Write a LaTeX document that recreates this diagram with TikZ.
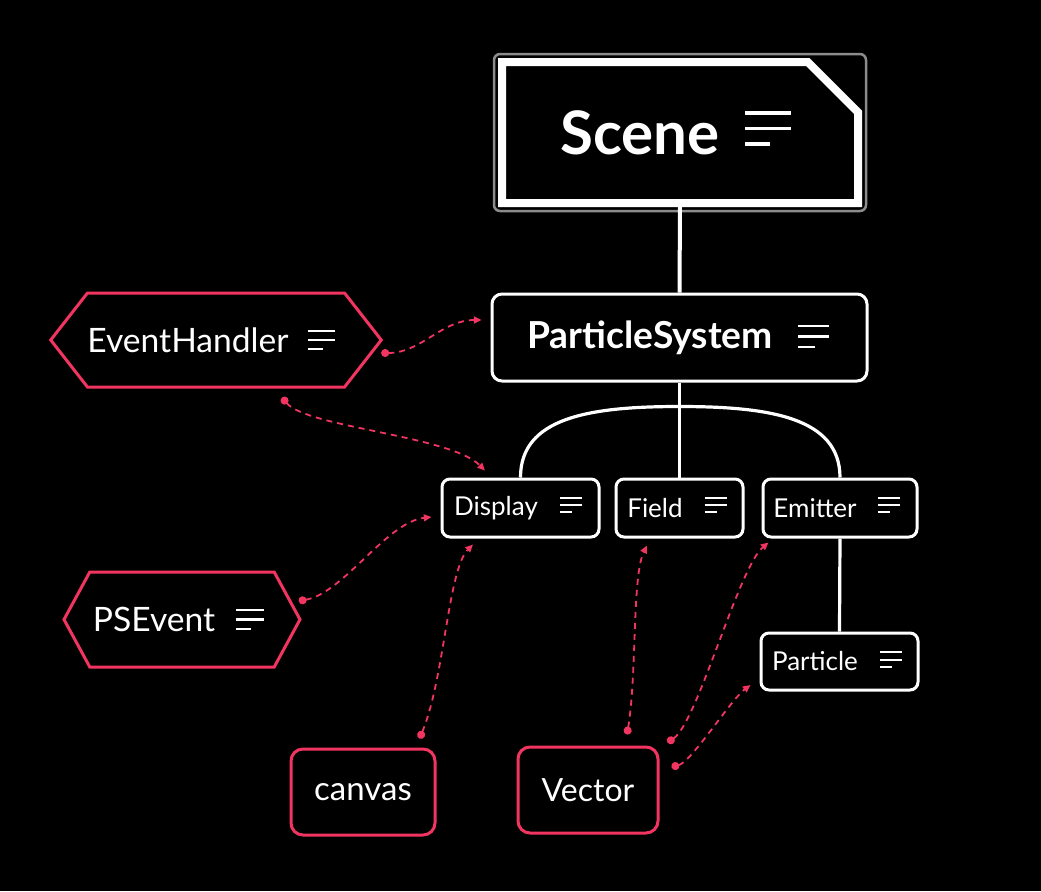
\documentclass[tikz,border=0pt]{standalone}
\usepackage{fontspec}
\setmainfont{Lato}
\usetikzlibrary{arrows.meta,shapes.misc,shapes.symbols,fit}
\definecolor{linkred}{RGB}{242,53,96}
\definecolor{framegray}{RGB}{140,140,140}
\tikzset{
  mainbox/.style={draw=white, line width=1.5pt, rounded corners=5pt, text=white, inner sep=0pt},
  smallbox/.style={mainbox, rounded corners=4pt, minimum height=29pt, font=\fontsize{13}{15}\selectfont},
  redbox/.style={draw=linkred, line width=1.5pt, rounded corners=6pt, text=white, inner sep=0pt, minimum height=43pt, font=\fontsize{16.5}{19}\selectfont},
  hexa/.style={signal, signal to=west and east, draw=linkred, line width=1.5pt, text=white, inner sep=0pt, minimum height=47pt, font=\fontsize{16.8}{19}\selectfont},
  scenebox/.style={chamfered rectangle, chamfered rectangle corners=north east, chamfered rectangle xsep=14pt, chamfered rectangle ysep=14pt, draw=white, line width=4pt, text=white, inner sep=0pt, font=\bfseries\fontsize{30}{36}\selectfont},
  tree/.style={draw=white, line width=1.6pt},
  link/.style={draw=linkred, line width=0.9pt, dash pattern=on 3pt off 2.5pt, {Circle[length=4pt]}-{Triangle[length=3.8pt,width=3.4pt]}},
  pics/menu/.style={code={\draw[white] (-0.5,-0.34) -- (0.5,-0.34) (-0.5,0) -- (0.5,0) (-0.5,0.34) -- (0.05,0.34);}}
}
\begin{document}
\begin{tikzpicture}[x=0.5pt, y=-0.5pt]
  %%%%% START %%%%%
  \fill[black] (0,0) rectangle (1041,891);

  \node[scenebox, minimum width=178pt, minimum height=70.5pt] (scene) at (680,132.5) {Scene\kern40pt};
  \node[draw=framegray, line width=1.25pt, rounded corners=3pt, inner sep=2pt, fit=(scene)] (sceneframe) {};
  \pic[scale=46, line width=1.75pt] at ([shift={(-94,-4)}]scene.east) {menu};

  \node[mainbox, minimum width=187.5pt, minimum height=43.5pt, font=\bfseries\fontsize{18.6}{22}\selectfont] (ps) at (679.5,337.5) {ParticleSystem\kern29.5pt};
  \pic[scale=31, line width=1.25pt] at ([shift={(-55,-1)}]ps.east) {menu};

  \node[smallbox, minimum width=78.5pt] (display) at (520.5,508) {Display\kern24.5pt};
  \node[smallbox, minimum width=63.5pt] (field) at (679.5,508) {Field\kern24.5pt};
  \node[smallbox, minimum width=77pt] (emitter) at (840,508) {Emitter\kern25pt};
  \node[smallbox, minimum width=78.5pt, minimum height=28.5pt] (particle) at (839.5,661.5) {Particle\kern24.5pt};
  \pic[scale=22, line width=1pt] at ([shift={(-29.5,-3)}]display.east) {menu};
  \pic[scale=22, line width=1pt] at ([shift={(-29,-3)}]field.east) {menu};
  \pic[scale=22, line width=1pt] at ([shift={(-29.5,-3)}]emitter.east) {menu};
  \pic[scale=22, line width=1pt] at ([shift={(-28.5,-2)}]particle.east) {menu};

  \node[hexa, minimum width=165pt, signal pointer angle=104] (handler) at (216,340) {EventHandler\kern28pt};
  \node[hexa, minimum width=118pt, minimum height=47.5pt, signal pointer angle=123] (psevent) at (182,619.5) {PSEvent\kern28pt};
  \pic[scale=27, line width=1.25pt] at ([shift={(-62,0)}]handler.east) {menu};
  \pic[scale=28, line width=1.25pt] at ([shift={(-52,0)}]psevent.east) {menu};

  \node[redbox, minimum width=72pt] (canvas) at (363,792) {canvas};
  \node[redbox, minimum width=70pt, font=\fontsize{16}{19}\selectfont] (vector) at (588,790) {Vector};

  % tree
  \draw[tree, line width=2pt] (scene.south) -- (ps.north);
  \draw[tree] (ps.south) -- (field.north);
  \coordinate (fork) at ([shift={(0,24)}]ps.south);
  \draw[tree] (display.north) .. controls +(0,-60) and +(-90,0) .. (fork) .. controls +(90,0) and +(0,-60) .. (emitter.north);
  \draw[tree] (emitter.south) -- (particle.north);

  % links
  \draw[link] ([shift={(-2,13)}]handler.east) .. controls +(40,0) and +(-40,0) .. ([shift={(-9,-17.5)}]ps.west);
  \draw[link] ([shift={(66,9)}]handler.south) .. controls +(25,30) and +(-35,-35) .. ([shift={(-35.5,-7)}]display.north);
  \draw[link] ([shift={(-3,-18.5)}]psevent.east) .. controls +(45,-8) and +(-45,5) .. ([shift={(-9,9)}]display.west);
  \draw[link] ([shift={(-17,-9)}]canvas.north east) .. controls +(25,-60) and +(-25,25) .. ([shift={(-47.5,6)}]display.south);
  \draw[link] ([shift={(39,-11)}]vector.north) .. controls +(10,-60) and +(-15,30) .. ([shift={(-32.5,7)}]field.south);
  \draw[link] ([shift={(8,-3)}]vector.north east) .. controls +(30,-20) and +(-30,25) .. ([shift={(7,4)}]emitter.south west);
  \draw[link] ([shift={(12,-23)}]vector.east) .. controls +(20,-5) and +(-20,15) .. ([shift={(-9,23.5)}]particle.west);
  %%%%% END %%%%%
\end{tikzpicture}
\end{document}
